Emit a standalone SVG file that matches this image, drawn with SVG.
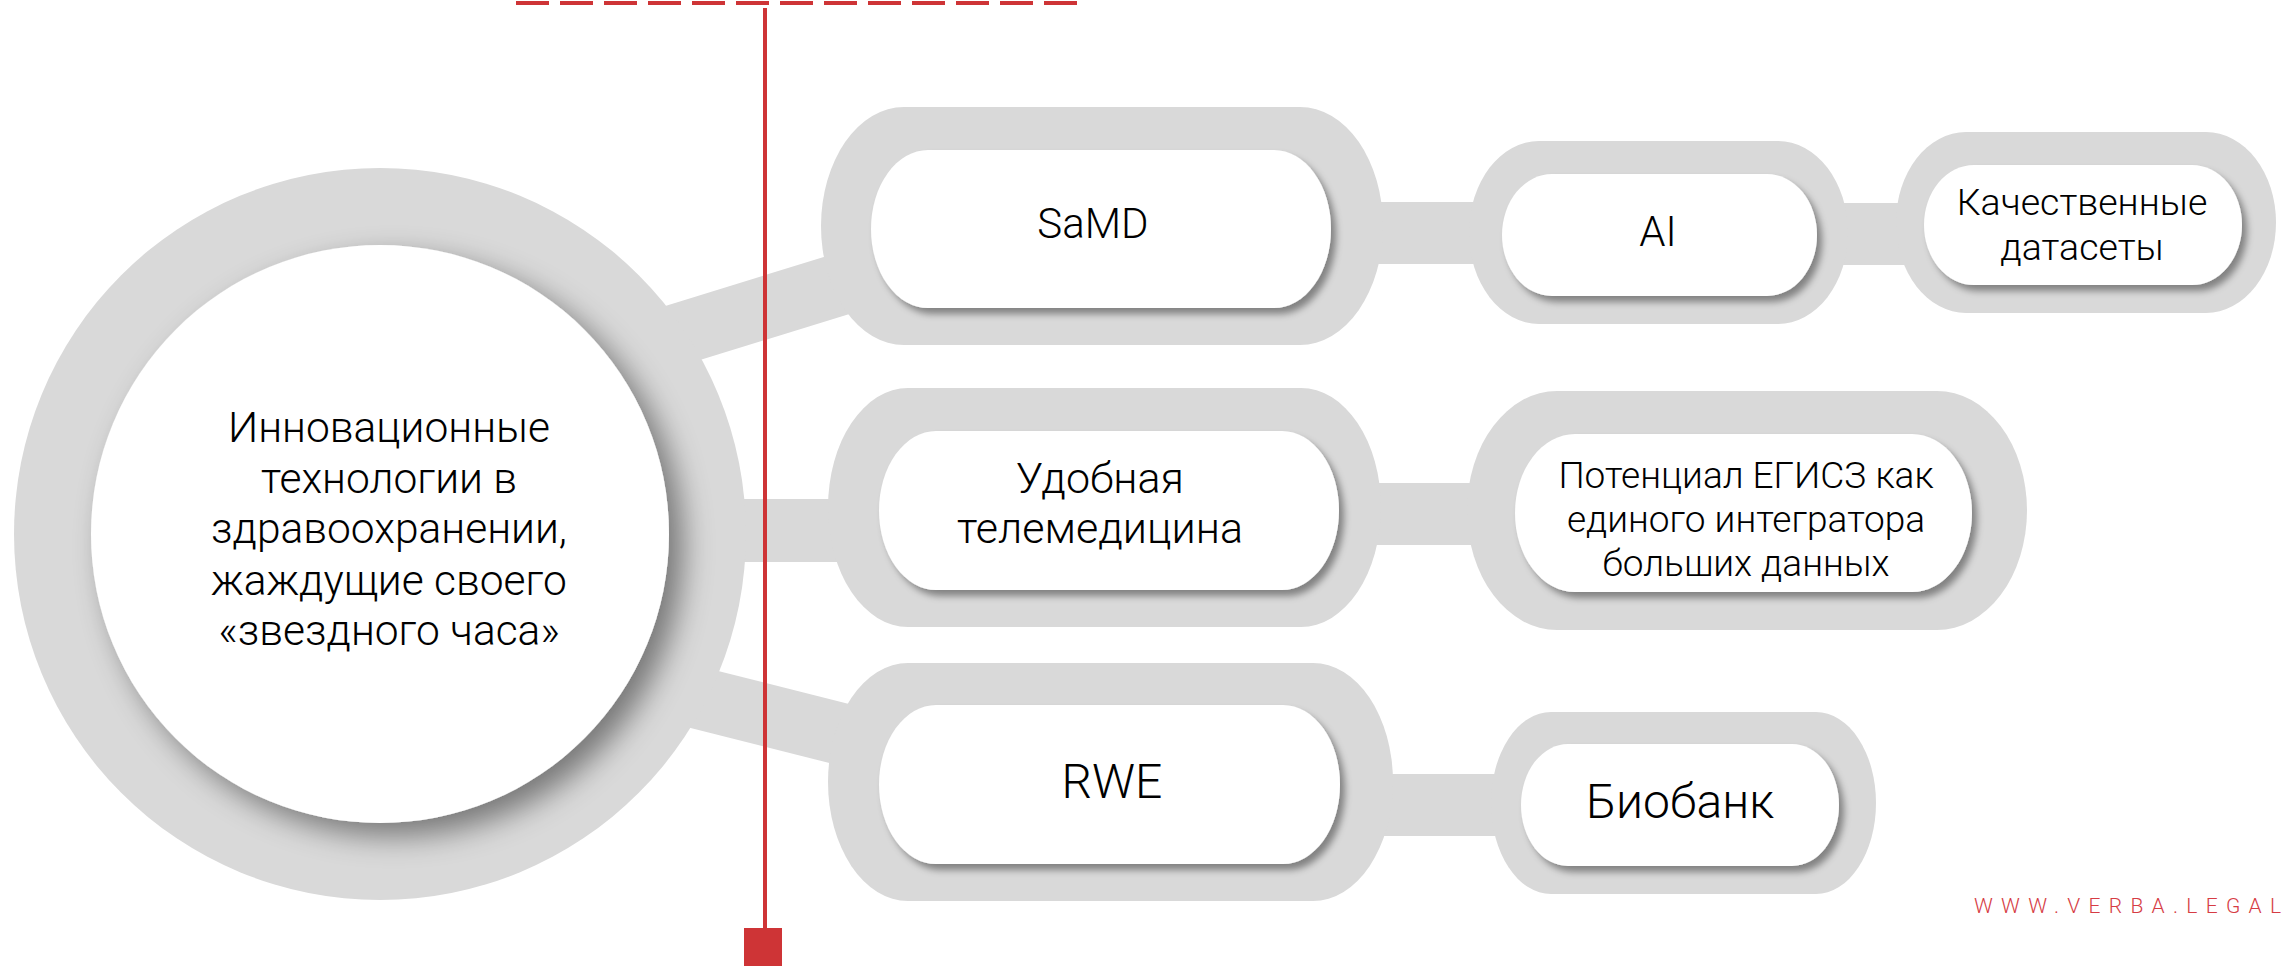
<svg xmlns="http://www.w3.org/2000/svg" width="2287" height="966" viewBox="0 0 2287 966">
<style>
.g{fill:#d9d9d9}
.w{fill:#ffffff;filter:url(#ps)}
.t{font-family:Roboto,"Liberation Sans",sans-serif;font-weight:300;fill:#000;text-anchor:middle}
.bar{stroke:#d9d9d9;stroke-width:62;fill:none}
</style>
<defs>
<filter id="ps" x="-10%" y="-20%" width="125%" height="150%">
<feDropShadow dx="5" dy="6" stdDeviation="3.5" flood-color="#000" flood-opacity="0.4"/>
</filter>
<filter id="cs" x="-15%" y="-15%" width="135%" height="135%">
<feDropShadow dx="14" dy="13" stdDeviation="15" flood-color="#000" flood-opacity="0.45"/>
</filter>
</defs>
<rect width="2287" height="966" fill="#fff"/>
<g id="connectors">
<line class="bar" x1="600" y1="358.5" x2="880" y2="272.1"/>
<rect class="g" x="700" y="499" width="150" height="63"/>
<line class="bar" x1="600" y1="673.2" x2="880" y2="743.8"/>
<rect class="g" x="1370" y="202" width="110" height="62"/>
<rect class="g" x="1840" y="203" width="65" height="62"/>
<rect class="g" x="1370" y="483" width="110" height="62"/>
<rect class="g" x="1380" y="774" width="120" height="62"/>
</g>
<g id="hub">
<circle class="g" cx="380" cy="534" r="366"/>
<circle cx="380" cy="534" r="289" fill="#fff" filter="url(#cs)"/>
<text class="t" font-size="42.5"><tspan x="389" y="442">Инновационные</tspan><tspan x="389" y="493">технологии в</tspan><tspan x="389" y="543">здравоохранении,</tspan><tspan x="389" y="595">жаждущие своего</tspan><tspan x="389" y="645">«звездного часа»</tspan></text>
</g>
<g id="samd">
<rect class="g" x="821" y="107" width="562" height="238" rx="83" ry="119"/>
<rect class="w" x="871" y="150" width="460" height="158" rx="57" ry="79"/>
<text class="t" font-size="42" x="1093" y="238">SaMD</text>
</g>
<g id="ai">
<rect class="g" x="1469" y="141" width="379" height="183" rx="70" ry="91.5"/>
<rect class="w" x="1502" y="174" width="315" height="122" rx="50" ry="61"/>
<text class="t" font-size="42" x="1658" y="246">AI</text>
</g>
<g id="datasets">
<rect class="g" x="1896" y="132" width="380" height="181" rx="70" ry="90.5"/>
<rect class="w" x="1924" y="165" width="318" height="120" rx="50" ry="60"/>
<text class="t" font-size="37.5"><tspan x="2082" y="215">Качественные</tspan><tspan x="2082" y="260">датасеты</tspan></text>
</g>
<g id="telemed">
<rect class="g" x="828" y="388" width="553" height="239" rx="80" ry="119.5"/>
<rect class="w" x="879" y="431" width="460" height="159" rx="57" ry="79.5"/>
<text class="t" font-size="43"><tspan x="1100" y="493">Удобная</tspan><tspan x="1100" y="543">телемедицина</tspan></text>
</g>
<g id="egisz">
<rect class="g" x="1467" y="391" width="560" height="239" rx="90" ry="119.5"/>
<rect class="w" x="1515" y="434" width="457" height="158" rx="60" ry="79"/>
<text class="t" font-size="37"><tspan x="1746" y="488">Потенциал ЕГИСЗ как</tspan><tspan x="1746" y="532">единого интегратора</tspan><tspan x="1746" y="576">больших данных</tspan></text>
</g>
<g id="rwe">
<rect class="g" x="828" y="663" width="565" height="238" rx="80" ry="119"/>
<rect class="w" x="879" y="705" width="461" height="159" rx="57" ry="79.5"/>
<text class="t" font-size="48" x="1112" y="798">RWE</text>
</g>
<g id="biobank">
<rect class="g" x="1491" y="712" width="385" height="182" rx="60" ry="91"/>
<rect class="w" x="1521" y="744" width="318" height="122" rx="47" ry="61"/>
<text class="t" font-size="48" x="1680" y="818">Биобанк</text>
</g>
<g id="marker">
<line x1="516" y1="3" x2="1077" y2="3" stroke="#ce3436" stroke-width="4" stroke-dasharray="33 11"/>
<line x1="765" y1="8" x2="765" y2="930" stroke="#ce3436" stroke-width="4"/>
<rect x="744" y="928" width="38" height="38" fill="#ce3436"/>
</g>
<text x="1974" y="913" font-family="Roboto,'Liberation Sans',sans-serif" font-weight="300" font-size="21" fill="#d63c44" textLength="307" lengthAdjust="spacing">WWW.VERBA.LEGAL</text>
</svg>
